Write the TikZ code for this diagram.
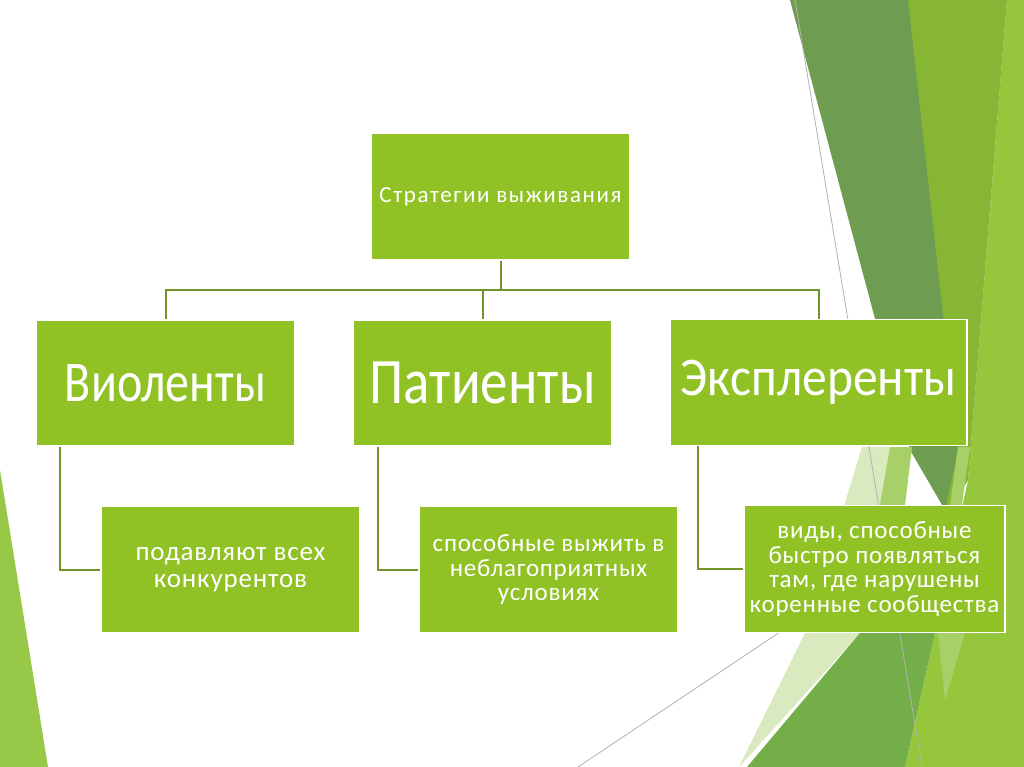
\documentclass[tikz,border=0pt]{standalone}
\usepackage{fontspec}
\setmainfont{Carlito}
\newfontfamily\topfont{Carlito}[LetterSpace=7]
\newfontfamily\lowfont{Carlito}[LetterSpace=3]
\definecolor{boxg}{RGB}{144,194,38}
\definecolor{conng}{RGB}{112,148,40}
\definecolor{darkg}{RGB}{110,156,80}
\definecolor{midg}{RGB}{134,182,52}
\definecolor{brightg}{RGB}{150,198,60}
\definecolor{lowg}{RGB}{116,174,72}
\definecolor{paleg}{RGB}{216,234,190}
\definecolor{lightg}{RGB}{168,208,104}
\definecolor{leftg}{RGB}{152,200,72}
\tikzset{
  gbox/.style={fill=boxg, draw=white, line width=1.5pt, text=white, align=center, inner sep=4pt},
  topbox/.style={gbox, minimum width=259pt, minimum height=127pt, font=\topfont\fontsize{23}{27}\selectfont},
  midbox/.style={gbox, minimum height=126pt},
  lowbox/.style={gbox, minimum width=259pt, minimum height=127pt, font=\lowfont\fontsize{25}{24.7}\selectfont},
  conn/.style={draw=conng, line width=2pt},
  thinline/.style={draw=gray!60, line width=0.8pt}
}
\begin{document}
\begin{tikzpicture}[x=1pt,y=-1pt]
\useasboundingbox (0,0) rectangle (1024,767);
\fill[white] (0,0) rectangle (1024,767);
% decoration
\fill[leftg] (0,470) -- (48,767) -- (0,767) -- cycle;
\fill[brightg] (1007,0) -- (1024,0) -- (1024,767) -- (905,767) -- (935,633) -- (968,480) -- cycle;
\fill[midg] (905,0) -- (1007,0) -- (968,480) -- (945,520) -- cycle;
\fill[darkg] (790,0) -- (908,0) -- (958,450) -- (945,510) -- (910,450) -- cycle;
\fill[paleg] (862,447) -- (892,447) -- (860,633) -- (739,767) -- (805,633) -- cycle;
\fill[lightg] (890,447) -- (912,447) -- (905,505) -- (880,505) -- cycle;
\fill[lightg] (958,447) -- (970,447) -- (962,505) -- (950,505) -- cycle;
\fill[lowg] (747,767) -- (860,633) -- (935,633) -- (905,767) -- cycle;
\fill[lightg] (938,633) -- (965,633) -- (945,700) -- cycle;
\draw[thinline] (795,0) -- (922,767);
\draw[thinline] (578,767) -- (780,632);
% nodes
\node[topbox] (top) at (500.5,196.5) {\raisebox{-3pt}{Стратегии выживания}};
\node[midbox, minimum width=259pt] (v) at (165.5,383) {\fontsize{48}{52}\selectfont\scalebox{1}[1.2]{Виоленты}};
\node[midbox, minimum width=259pt] (p) at (482.5,383) {\fontsize{55}{60}\selectfont\scalebox{1}[1.18]{Патиенты}};
\node[midbox, minimum width=297pt] (e) at (818.5,382.5) {\fontsize{49.5}{54}\selectfont\scalebox{1}[1.1]{Эксплеренты}};
\node[lowbox, font=\lowfont\fontsize{27}{26.5}\selectfont] (v3) at (230.5,569.5) {подавляют всех\\конкурентов};
\node[lowbox] (p3) at (548.5,569.5) {способные выжить в\\неблагоприятных\\условиях};
\node[lowbox, minimum width=261pt] (e3) at (874.5,569) {виды, способные\\быстро появляться\\там, где нарушены\\коренные сообщества};
\coordinate (bus) at (0,290);
\draw[conn] (top.south) -- (top.south |- bus);
\draw[conn] (v.north) -- (v.north |- bus) -- (e.north |- bus) -- (e.north);
\draw[conn] (p.north) -- (p.north |- bus);
\draw[conn] ([xshift=25pt]v.south west) |- (v3.west);
\draw[conn] ([xshift=26pt]p.south west) |- (p3.west);
\draw[conn] ([xshift=29pt]e.south west) |- (e3.west);
\end{tikzpicture}
\end{document}
